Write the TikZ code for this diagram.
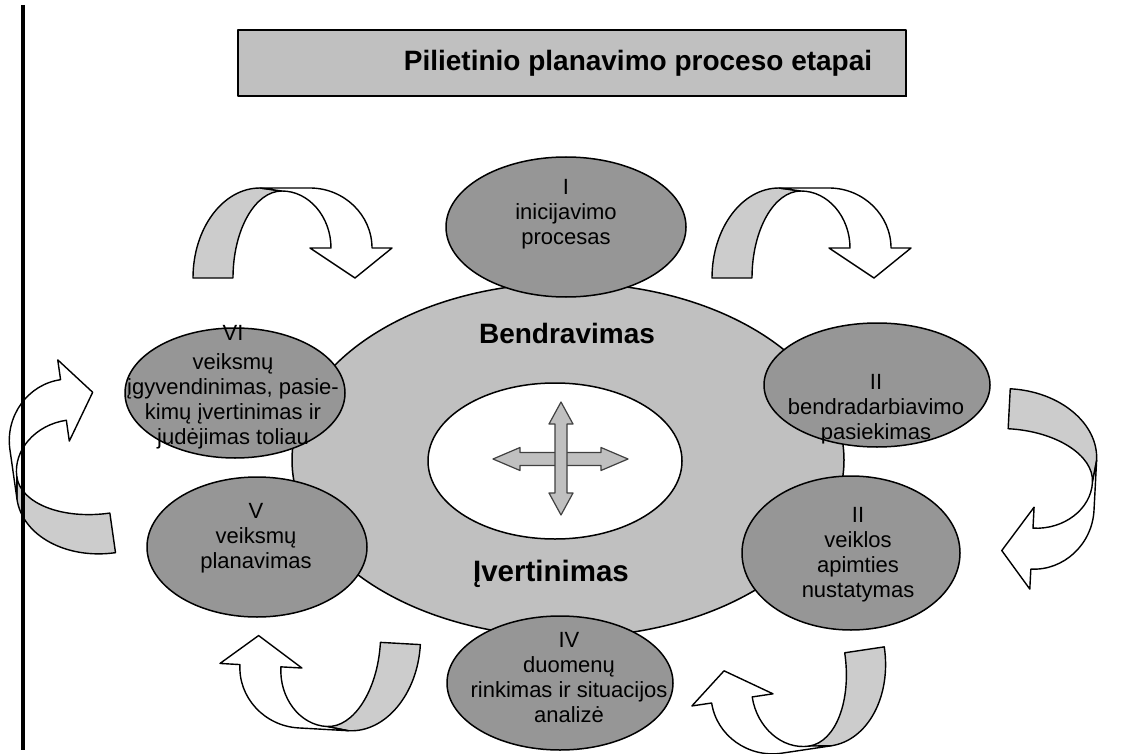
\documentclass[tikz,border=0pt]{standalone}
\usepackage{fontspec}
\setmainfont{Liberation Sans}
\definecolor{silver}{HTML}{C0C0C0}
\definecolor{stagegray}{HTML}{969696}
\definecolor{bandgray}{HTML}{CCCCCC}
\definecolor{crossline}{HTML}{404040}
\newcommand{\bentarrowshape}[3]{%
  \begin{scope}[shift={(#1,#2)}, rotate=#3]
    \draw[bandback] (-99,45) .. controls (-99,-4.7) and (-69,-45) .. (-32,-45) -- (-10,-42)
      .. controls (-37,-42) and (-59,-3) .. (-59,45) -- cycle;
    \draw[bandfront] (-32,-45) -- (18,-45) .. controls (52,-45) and (80,-18) .. (80,15)
      -- (100,15) -- (63,45) -- (18,15) -- (39,15)
      .. controls (39,-16) and (17,-42) .. (-10,-42) -- cycle;
  \end{scope}}
\begin{document}
\begin{tikzpicture}[x=1pt,y=-1pt,line join=round,
  bandback/.style={fill=bandgray,draw=black,line width=1.4pt},
  bandfront/.style={fill=white,draw=black,line width=1.4pt},
  stagefill/.style={fill=stagegray,draw=black,line width=1.5pt},
  stagetext/.style={align=center,inner sep=0pt,font=\fontsize{22}{25}\selectfont},
  bigtext/.style={inner sep=0pt,font=\fontsize{28}{32}\selectfont\bfseries},
  crossarrow/.style={fill=silver,draw=crossline,line width=1.2pt}]
\useasboundingbox (0,0) rectangle (1137,754);
% title
\fill[black] (239,31.5) rectangle (907,97.5);
\draw[fill=silver,line width=1.2pt] (238,30) rectangle (906,96);
\node[bigtext] (title) at (638,63) {Pilietinio planavimo proceso etapai};
% big ellipse and inner ellipse
\draw[fill=silver,line width=1.5pt] (568,460) ellipse [x radius=276pt, y radius=177pt];
\draw[fill=white,line width=1.5pt] (555,461) ellipse [x radius=127pt, y radius=78pt];
% cross arrow
\draw[crossarrow] (493,459) -- (520,447.5) -- (520,452.5) -- (601,452.5) -- (601,447.5)
  -- (628,459) -- (601,470.5) -- (601,465.5) -- (520,465.5) -- (520,470.5) -- cycle;
\draw[crossarrow] (561,402) -- (573,424) -- (567,424) -- (567,493) -- (573,493)
  -- (561,515) -- (549,493) -- (555,493) -- (555,424) -- (549,424) -- cycle;
\node[bigtext] (bendr) at (567,333) {Bendravimas};
\node[bigtext,font=\fontsize{29.5}{33}\selectfont\bfseries] (ivert) at (551,574) {Įvertinimas};
% stage ellipses
\draw[stagefill] (566,227) ellipse [x radius=120pt, y radius=70pt];
\node[stagetext] (s1) at (566,214) {I\\inicijavimo\\procesas};
\draw[stagefill] (877,385) ellipse [x radius=113pt, y radius=62pt];
\node[stagetext] (s2) at (876,409) {II\\bendradarbiavimo\\pasiekimas};
\draw[stagefill] (851,553) ellipse [x radius=109pt, y radius=77pt];
\node[stagetext] (s3) at (858,555) {II\\veiklos\\apimties\\nustatymas};
\draw[stagefill] (560,683) ellipse [x radius=113pt, y radius=67pt];
\node[stagetext] (s4) at (569,678) {IV\\duomenų\\rinkimas ir situacijos\\analizė};
\draw[stagefill] (257,547) ellipse [x radius=110pt, y radius=70pt];
\node[stagetext] (s5) at (256,538) {V\\veiksmų\\planavimas};
\draw[stagefill] (235,393) ellipse [x radius=110pt, y radius=65pt];
\node[stagetext] (s6) at (233,387) {VI\\[4pt]veiksmų\\įgyvendinimas, pasie-\\kimų įvertinimas ir\\judėjimas toliau};
% curved arrows
\bentarrowshape{292}{233}{0}
\bentarrowshape{811}{233}{0}
\bentarrowshape{1050}{490}{-93}
\bentarrowshape{793}{706}{188.5}
\bentarrowshape{319}{684}{176.8}
\bentarrowshape{57}{461}{98.1}
% left rule
\draw[line width=4pt] (23,5) -- (23,750);
\end{tikzpicture}
\end{document}
